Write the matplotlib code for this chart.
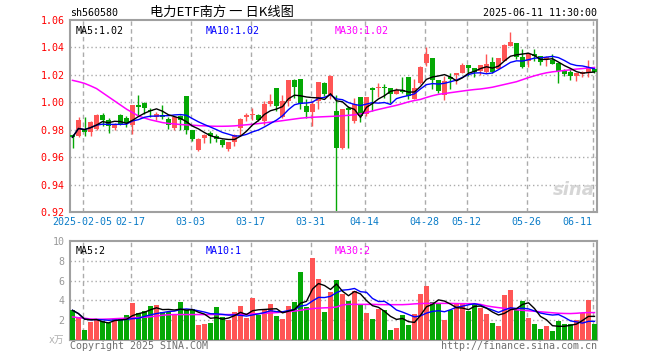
import numpy as np
import pandas as pd
import matplotlib
matplotlib.use("Agg")
import matplotlib.pyplot as plt

plt.rcParams['font.family'] = ['DejaVu Sans Mono', 'Noto Sans CJK SC']
plt.rcParams['lines.scale_dashes'] = False

# x-axis date labels and the bar they sit on
date_labels = ["2025-02-05", "02-17", "03-03", "03-17", "03-31",
               "04-14", "04-28", "05-12", "05-26", "06-11"]
date_index = [2, 10, 20, 30, 40, 49, 59, 66, 76, 87]

opens = [0.9763, 0.9752, 0.9800, 0.9786, 0.9805, 0.9908, 0.9871, 0.9815, 0.9908, 0.9888,
         0.9837, 0.9982, 0.9998, 0.9945, 0.9895, 0.9905, 0.9875, 0.9812, 0.9898, 1.0048,
         0.9798, 0.9655, 0.9737, 0.9778, 0.9752, 0.9725, 0.9663, 0.9713, 0.9814, 0.9890,
         0.9906, 0.9910, 0.9862, 0.9989, 1.0102, 0.9894, 1.0009, 1.0163, 1.0168, 0.9970,
         0.9928, 1.0009, 1.0144, 1.0046, 0.9940, 0.9666, 0.9958, 0.9862, 1.0038, 0.9918,
         1.0107, 1.0102, 1.0114, 1.0107, 1.0058, 1.0090, 1.0188, 1.0021, 1.0144, 1.0290,
         1.0322, 1.0161, 1.0051, 1.0185, 1.0200, 1.0212, 1.0271, 1.0249, 1.0229, 1.0224,
         1.0295, 1.0246, 1.0302, 1.0412, 1.0432, 1.0327, 1.0302, 1.0351, 1.0334, 1.0315,
         1.0310, 1.0290, 1.0229, 1.0222, 1.0193, 1.0205, 1.0224, 1.0241]
highs = [0.9770, 0.9890, 0.9890, 0.9860, 0.9915, 0.9925, 0.9885, 0.9850, 0.9915, 0.9900,
         0.9983, 1.0055, 1.0000, 0.9960, 0.9932, 0.9980, 0.9895, 0.9900, 0.9910, 1.0048,
         0.9800, 0.9740, 0.9768, 0.9790, 0.9766, 0.9735, 0.9711, 0.9770, 0.9888, 0.9923,
         0.9960, 0.9912, 1.0009, 1.0058, 1.0102, 1.0050, 1.0161, 1.0173, 1.0168, 1.0021,
         1.0009, 1.0149, 1.0149, 1.0200, 1.0050, 0.9948, 0.9972, 1.0033, 1.0038, 1.0038,
         1.0112, 1.0144, 1.0132, 1.0107, 1.0107, 1.0188, 1.0188, 1.0168, 1.0266, 1.0400,
         1.0322, 1.0161, 1.0193, 1.0210, 1.0212, 1.0290, 1.0271, 1.0249, 1.0271, 1.0350,
         1.0327, 1.0320, 1.0424, 1.0512, 1.0432, 1.0385, 1.0358, 1.0388, 1.0334, 1.0334,
         1.0350, 1.0290, 1.0241, 1.0241, 1.0212, 1.0229, 1.0310, 1.0246]
lows = [0.9670, 0.9745, 0.9755, 0.9755, 0.9795, 0.9828, 0.9775, 0.9795, 0.9832, 0.9820,
        0.9770, 0.9900, 0.9918, 0.9890, 0.9872, 0.9875, 0.9805, 0.9800, 0.9800, 0.9766,
        0.9715, 0.9642, 0.9700, 0.9700, 0.9713, 0.9675, 0.9646, 0.9680, 0.9754, 0.9860,
        0.9874, 0.9860, 0.9832, 0.9970, 0.9935, 0.9886, 0.9972, 1.0033, 0.9948, 0.9886,
        0.9825, 0.9948, 1.0046, 1.0026, 0.9200, 0.9659, 0.9666, 0.9850, 0.9854, 0.9900,
        0.9935, 1.0040, 1.0033, 0.9997, 1.0058, 1.0070, 1.0021, 1.0021, 1.0132, 1.0266,
        1.0095, 1.0071, 1.0017, 1.0100, 1.0134, 1.0212, 1.0192, 1.0188, 1.0198, 1.0217,
        1.0217, 1.0241, 1.0302, 1.0412, 1.0315, 1.0249, 1.0254, 1.0302, 1.0270, 1.0266,
        1.0278, 1.0144, 1.0192, 1.0163, 1.0156, 1.0188, 1.0188, 1.0217]
closes = [0.9745, 0.9873, 0.9785, 0.9856, 0.9910, 0.9873, 0.9830, 0.9838, 0.9845, 0.9848,
          0.9982, 0.9968, 0.9958, 0.9935, 0.9918, 0.9895, 0.9838, 0.9893, 0.9868, 0.9798,
          0.9735, 0.9735, 0.9760, 0.9754, 0.9730, 0.9690, 0.9710, 0.9760, 0.9875, 0.9910,
          0.9918, 0.9874, 0.9984, 1.0006, 0.9972, 1.0006, 1.0161, 1.0114, 0.9984, 0.9928,
          0.9984, 1.0149, 1.0058, 1.0193, 0.9670, 0.9948, 0.9947, 0.9984, 0.9899, 1.0038,
          1.0087, 1.0114, 1.0102, 1.0058, 1.0090, 1.0075, 1.0046, 1.0107, 1.0258, 1.0351,
          1.0161, 1.0083, 1.0156, 1.0170, 1.0212, 1.0273, 1.0249, 1.0224, 1.0271, 1.0278,
          1.0224, 1.0320, 1.0417, 1.0441, 1.0327, 1.0254, 1.0351, 1.0334, 1.0295, 1.0330,
          1.0278, 1.0229, 1.0205, 1.0193, 1.0212, 1.0222, 1.0254, 1.0222]
# volume in 10k lots
volumes = [3.00, 2.33, 1.00, 1.83, 2.17, 1.90, 1.73, 2.17, 2.17, 2.50,
           3.73, 2.73, 2.90, 3.40, 3.50, 2.83, 2.83, 2.60, 3.83, 3.00,
           3.10, 1.50, 1.63, 1.73, 3.33, 2.33, 2.07, 2.83, 3.40, 2.23,
           4.23, 2.57, 3.00, 3.60, 2.40, 2.13, 3.40, 3.83, 6.83, 3.33,
           8.33, 6.20, 2.83, 4.83, 6.10, 4.67, 3.93, 5.00, 3.57, 2.73,
           2.10, 3.10, 3.00, 1.00, 1.20, 2.57, 1.50, 2.60, 4.60, 5.50,
           3.83, 3.73, 2.00, 3.07, 3.67, 3.67, 2.90, 3.67, 3.23, 2.60,
           1.73, 1.40, 4.50, 5.10, 3.07, 3.90, 2.23, 1.60, 1.10, 1.40,
           0.90, 1.93, 1.60, 1.60, 2.00, 2.73, 4.00, 1.60]
# 30-day averages (history before the window is not shown)
ma30_price = [1.0160, 1.0150, 1.0138, 1.0120, 1.0100, 1.0070, 1.0040, 1.0010, 0.9980, 0.9950,
              0.9925, 0.9900, 0.9885, 0.9872, 0.9862, 0.9852, 0.9846, 0.9842, 0.9838, 0.9835,
              0.9833, 0.9830, 0.9828, 0.9826, 0.9825, 0.9825, 0.9826, 0.9828, 0.9832, 0.9836,
              0.9840, 0.9845, 0.9850, 0.9855, 0.9860, 0.9866, 0.9872, 0.9878, 0.9884, 0.9888,
              0.9891, 0.9893, 0.9895, 0.9897, 0.9899, 0.9902, 0.9905, 0.9909, 0.9915, 0.9925,
              0.9937, 0.9948, 0.9958, 0.9968, 0.9978, 0.9990, 1.0003, 1.0013, 1.0021, 1.0035,
              1.0048, 1.0058, 1.0064, 1.0070, 1.0076, 1.0082, 1.0088, 1.0093, 1.0097, 1.0103,
              1.0110, 1.0120, 1.0130, 1.0140, 1.0150, 1.0165, 1.0180, 1.0193, 1.0205, 1.0215,
              1.0222, 1.0227, 1.0232, 1.0237, 1.0242, 1.0246, 1.0250, 1.0254]
ma30_vol = [2.33, 2.25, 2.20, 2.12, 2.10, 2.10, 2.12, 2.15, 2.18, 2.20,
            2.23, 2.27, 2.30, 2.35, 2.42, 2.50, 2.55, 2.57, 2.57, 2.57,
            2.57, 2.57, 2.57, 2.57, 2.57, 2.57, 2.57, 2.57, 2.60, 2.62,
            2.64, 2.66, 2.70, 2.73, 2.77, 2.82, 2.87, 2.92, 3.00, 3.10,
            3.17, 3.22, 3.25, 3.27, 3.33, 3.55, 3.60, 3.60, 3.60, 3.60,
            3.60, 3.58, 3.57, 3.57, 3.57, 3.57, 3.60, 3.65, 3.68, 3.70,
            3.70, 3.70, 3.70, 3.70, 3.68, 3.67, 3.67, 3.67, 3.60, 3.45,
            3.35, 3.27, 3.20, 3.12, 3.05, 3.00, 2.95, 2.90, 2.85, 2.80,
            2.75, 2.70, 2.68, 2.67, 2.70, 2.75, 2.77, 2.77]

price_ticks = [1.06, 1.04, 1.02, 1.00, 0.98, 0.96, 0.94, 0.92]
vol_ticks = [2, 4, 6, 8, 10]

RED = "#ff5555"
GREEN = "#05a805"
GRID = "#ababab"
FRAME = "#a0a0a0"
W, H = 660, 360


def px_axes(fig, left, top, right, bottom):
    return fig.add_axes([left / W, 1 - bottom / H, (right - left) / W, (bottom - top) / H])


def style_axes(ax):
    ax.set_xlim(-0.417, 87.42)
    ax.set_xticks([])
    for s in ax.spines.values():
        s.set_color(FRAME)
        s.set_linewidth(1.5)
    ax.tick_params(axis="y", length=0, pad=4, labelsize=7.2)
    for i in date_index:
        ax.axvline(i - 0.3, color=GRID, lw=1, ls=(0, (3.2, 2.4)), zorder=0)


def main():
    x = np.arange(len(closes))
    o = np.array(opens)
    c = np.array(closes)
    up = c >= o
    colors = [RED if u else GREEN for u in up]

    close_s = pd.Series(closes)
    vol_s = pd.Series(volumes)
    ma5 = close_s.rolling(5, min_periods=1).mean()
    ma10 = close_s.rolling(10, min_periods=1).mean()
    vma5 = vol_s.rolling(5, min_periods=1).mean()
    vma10 = vol_s.rolling(10, min_periods=1).mean()

    fig = plt.figure(figsize=(W / 100, H / 100), dpi=100)

    # price panel
    ax = px_axes(fig, 70, 20, 597, 212)
    style_axes(ax)
    ax.set_ylim(0.92, 1.06)
    ax.set_yticks(price_ticks)
    ax.set_yticklabels([f"{t:.2f}" for t in price_ticks], color="#ff0000")
    for t in price_ticks[1:-1]:
        ax.axhline(t, color=GRID, lw=1, ls=(0, (1, 2)), zorder=0)

    ax.vlines(x, lows, highs, colors=colors, lw=1, zorder=2)
    body = np.maximum(np.abs(c - o), 0.0003)
    ax.bar(x, body, bottom=np.minimum(o, c), width=0.83, color=colors, zorder=3)

    ax.plot(x, ma30_price, color="#ff00ff", lw=1.1, zorder=4)
    ax.plot(x, ma10, color="#0000ff", lw=1.0, zorder=5)
    ax.plot(x, ma5, color="black", lw=1.0, zorder=6)

    ax.text(0.01, 0.97, "MA5:1.02", transform=ax.transAxes, fontsize=7.2, color="black", va="top")
    ax.text(0.257, 0.97, "MA10:1.02", transform=ax.transAxes, fontsize=7.2, color="#0000ff", va="top")
    ax.text(0.503, 0.97, "MA30:1.02", transform=ax.transAxes, fontsize=7.2, color="#ff00ff", va="top")
    ax.text(0.995, 0.07, "sina", transform=ax.transAxes, fontsize=13, color="#d6d6d6",
            ha="right", va="bottom", style="italic", weight="bold", family="DejaVu Sans")

    xt = ax.get_xaxis_transform()
    for lab, i in zip(date_labels, date_index):
        ha = "right" if i == date_index[-1] else "center"
        ax.text(i - 0.3, -0.052, lab, transform=xt, ha=ha, va="center",
                fontsize=7.2, color="#0a7cc8")

    # volume panel
    axv = px_axes(fig, 70, 241, 597, 340)
    style_axes(axv)
    axv.set_ylim(0, 10)
    axv.set_yticks(vol_ticks)
    axv.set_yticklabels([str(t) for t in vol_ticks], color="#999999")
    for t in vol_ticks[:-1]:
        axv.axhline(t, color=GRID, lw=1, ls=(0, (1, 2)), zorder=0)
    axv.text(-0.011, 0, "x万", transform=axv.transAxes, ha="right", va="center",
             fontsize=7, color="#b0b0b0")

    axv.bar(x, volumes, width=0.83, color=colors, zorder=3)
    axv.plot(x, ma30_vol, color="#ff00ff", lw=1.1, zorder=4)
    axv.plot(x, vma10, color="#0000ff", lw=1.0, zorder=5)
    axv.plot(x, vma5, color="black", lw=1.0, zorder=6)

    axv.text(0.01, 0.95, "MA5:2", transform=axv.transAxes, fontsize=7.2, color="black", va="top")
    axv.text(0.257, 0.95, "MA10:1", transform=axv.transAxes, fontsize=7.2, color="#0000ff", va="top")
    axv.text(0.503, 0.95, "MA30:2", transform=axv.transAxes, fontsize=7.2, color="#ff00ff", va="top")

    # header and footer
    fig.text(70 / W, 1 - 13.5 / H, "sh560580", fontsize=7.2, va="center")
    fig.text(222 / W, 1 - 12.5 / H, "电力ETF南方 一 日K线图", fontsize=9.5, ha="center",
             va="center", family=["Noto Sans CJK SC", "DejaVu Sans"])
    fig.text(597 / W, 1 - 13 / H, "2025-06-11 11:30:00", fontsize=7.2, ha="right", va="center")
    fig.text(70 / W, 1 - 346 / H, "Copyright 2025 SINA.COM", fontsize=7.2, va="center", color="#707070")
    fig.text(597 / W, 1 - 346 / H, "http://finance.sina.com.cn", fontsize=7.2, ha="right",
             va="center", color="#707070")

    fig.savefig("out.png", dpi=100)
    plt.close(fig)


if __name__ == "__main__":
    main()
